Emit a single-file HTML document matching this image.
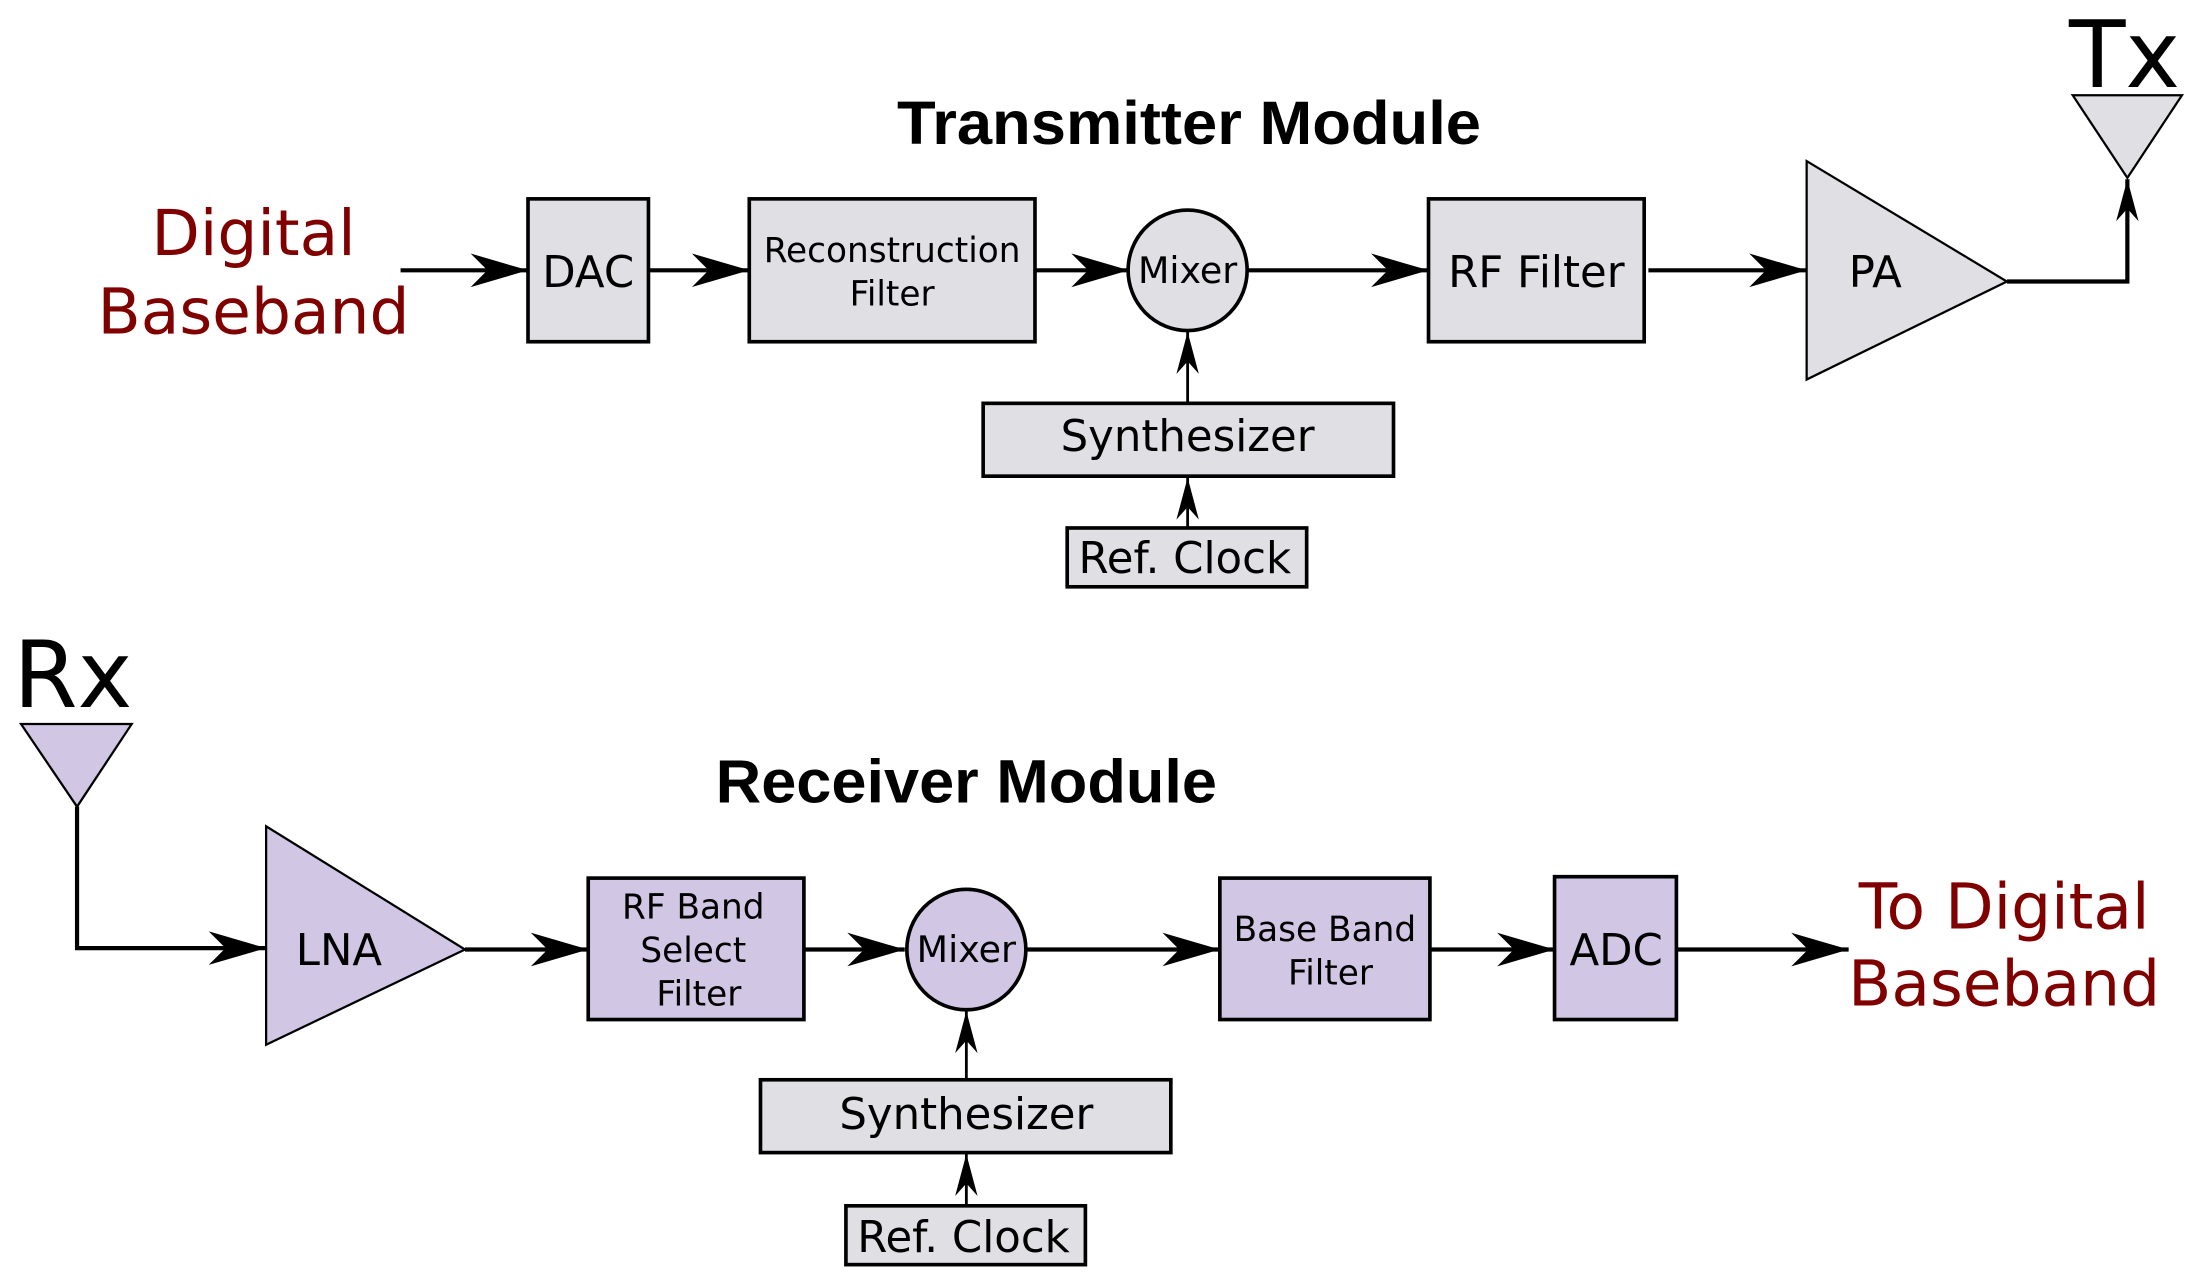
<!DOCTYPE html>
<html><head><meta charset="utf-8"><style>html,body{margin:0;padding:0;background:#fff}svg{display:block}</style></head>
<body>
<svg width="2196" height="1282" viewBox="0 0 1568 915.4" xmlns="http://www.w3.org/2000/svg">
<defs>
<marker id="ah" markerUnits="userSpaceOnUse" markerWidth="44" markerHeight="28" refX="41" refY="12" orient="auto" viewBox="0 0 44 28">
<path d="M41,12 L0,0 L12,12 L0,24 Z" fill="#000"/>
</marker>
<marker id="av" markerUnits="userSpaceOnUse" markerWidth="34" markerHeight="20" refX="30" refY="8" orient="auto" viewBox="0 0 34 20">
<path d="M30,8 L0,0 L9,8 L0,16 Z" fill="#000"/>
</marker>
</defs>
<g font-family="DejaVu Sans, sans-serif" text-anchor="middle" fill="#000">
<text x="849" y="103" font-family="Liberation Sans, sans-serif" font-weight="bold" font-size="44" textLength="417" lengthAdjust="spacingAndGlyphs">Transmitter Module</text>
<text x="690" y="573" font-family="Liberation Sans, sans-serif" font-weight="bold" font-size="44" textLength="358" lengthAdjust="spacingAndGlyphs">Receiver Module</text>

<text x="181" y="182" font-size="45" fill="#800000">Digital</text>
<text x="181" y="238" font-size="45" fill="#800000">Baseband</text>
<g stroke="#000" stroke-width="3" fill="none">
<line x1="286" y1="193" x2="377" y2="193" marker-end="url(#ah)"/>
<line x1="463" y1="193" x2="535" y2="193" marker-end="url(#ah)"/>
<line x1="739" y1="193" x2="806" y2="193" marker-end="url(#ah)"/>
<line x1="891" y1="193" x2="1020" y2="193" marker-end="url(#ah)"/>
<line x1="1177" y1="193" x2="1290" y2="193" marker-end="url(#ah)"/>
<polyline points="1433,201 1519,201 1519,128" marker-end="url(#av)"/>
<line x1="848" y1="288" x2="848" y2="237" stroke-width="2" marker-end="url(#av)"/>
<line x1="848" y1="377" x2="848" y2="341" stroke-width="2" marker-end="url(#av)"/>
</g>
<g stroke="#000" stroke-width="2.6" fill="#dfdfe4">
<rect x="377" y="142" width="86" height="102"/>
<rect x="535" y="142" width="204" height="102"/>
<ellipse cx="848" cy="193" rx="42.5" ry="43"/>
<rect x="1020" y="142" width="154" height="102"/>
<rect x="702" y="288" width="293" height="52"/>
<rect x="762" y="377" width="171" height="42"/>
<polygon points="1290,115 1290,271 1433,201" stroke-width="1.6"/>
<polygon points="1480,68 1558,68 1519,127" stroke-width="1.6"/>
</g>
<text x="420" y="205" font-size="31">DAC</text>
<text x="637" y="187" font-size="24.5">Reconstruction</text>
<text x="637" y="218" font-size="24.5">Filter</text>
<text x="848" y="202" font-size="26">Mixer</text>
<text x="1097" y="205" font-size="31">RF Filter</text>
<text x="1339" y="205" font-size="31">PA</text>
<text x="848" y="322" font-size="31">Synthesizer</text>
<text x="846" y="409" font-size="31">Ref. Clock</text>
<text x="1517" y="62" font-size="66">Tx</text>

<text x="52" y="505" font-size="66">Rx</text>
<g stroke="#000" stroke-width="3" fill="none">
<polyline points="55,576 55,677 190,677" marker-end="url(#ah)"/>
<line x1="332" y1="678" x2="420" y2="678" marker-end="url(#ah)"/>
<line x1="574" y1="678" x2="646" y2="678" marker-end="url(#ah)"/>
<line x1="733" y1="678" x2="871" y2="678" marker-end="url(#ah)"/>
<line x1="1021" y1="678" x2="1110" y2="678" marker-end="url(#ah)"/>
<line x1="1197" y1="678" x2="1320" y2="678" marker-end="url(#ah)"/>
<line x1="690" y1="771" x2="690" y2="722" stroke-width="2" marker-end="url(#av)"/>
<line x1="690" y1="861" x2="690" y2="824" stroke-width="2" marker-end="url(#av)"/>
</g>
<g stroke="#000" stroke-width="2.6" fill="#d1c7e4">
<polygon points="15,517 94,517 55,576" stroke-width="1.6"/>
<polygon points="190,590 190,746 332,678" stroke-width="1.6"/>
<rect x="420" y="627" width="154" height="101"/>
<ellipse cx="690" cy="678" rx="42.5" ry="43"/>
<rect x="871" y="627" width="150" height="101"/>
<rect x="1110" y="626" width="87" height="102"/>
</g>
<g stroke="#000" stroke-width="2.6" fill="#dfdfe4">
<rect x="543" y="771" width="293" height="52"/>
<rect x="604" y="861" width="171" height="42"/>
</g>
<text x="242" y="689" font-size="31">LNA</text>
<text x="495" y="656" font-size="24.5">RF Band</text>
<text x="495" y="687" font-size="24.5">Select</text>
<text x="499" y="718" font-size="24.5">Filter</text>
<text x="690" y="687" font-size="26">Mixer</text>
<text x="946" y="672" font-size="24.5">Base Band</text>
<text x="950" y="703" font-size="24.5">Filter</text>
<text x="1154" y="689" font-size="31">ADC</text>
<text x="690" y="806" font-size="31">Synthesizer</text>
<text x="688" y="894" font-size="31">Ref. Clock</text>
<text x="1431" y="663" font-size="45" fill="#800000">To Digital</text>
<text x="1431" y="718" font-size="45" fill="#800000">Baseband</text>
</g>
</svg>
</body></html>
